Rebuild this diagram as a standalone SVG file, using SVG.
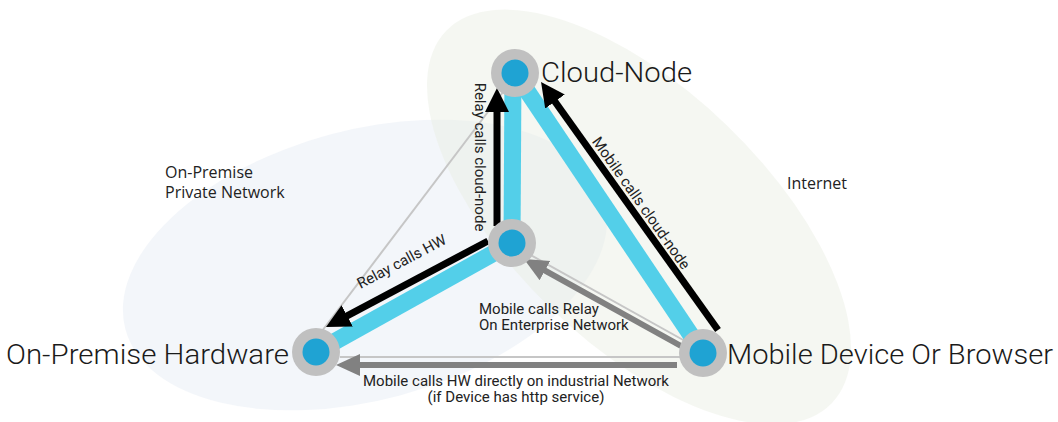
<svg xmlns="http://www.w3.org/2000/svg" width="1058" height="422" viewBox="0 0 1058 422">
  <style>
    .zone-onprem { fill: #e7eef6; fill-opacity: 0.5; }
    .zone-net { fill: #e9eee2; fill-opacity: 0.45; }
    .zone-label { font-family: "Open Sans", "Liberation Sans", sans-serif; font-size: 16px; fill: #222; }
    .ring { fill: #c0c0c0; }
    .core { fill: #1fa3d3; }
    .node-label { font-family: Roboto, "Liberation Sans", sans-serif; font-weight: 300; font-size: 27px; fill: #1a1a1a; }
    .trunk { stroke: #53cfe9; stroke-width: 17; fill: none; }
    .call { stroke: #000; stroke-width: 7; fill: none; }
    .alt { stroke: #818181; stroke-width: 6; fill: none; }
    .hair { stroke: #c6c6c6; stroke-width: 2; fill: none; }
    .edge-label { font-family: Roboto, "Liberation Sans", sans-serif; font-size: 15px; fill: #222; }
  </style>
  <defs>
    <marker id="headBlack" markerUnits="userSpaceOnUse" markerWidth="26" markerHeight="26" refX="6" refY="12" orient="auto">
      <path d="M0,0 L24,12 L0,24 z" fill="#000"/>
    </marker>
    <marker id="headGrey" markerUnits="userSpaceOnUse" markerWidth="26" markerHeight="24" refX="6" refY="11" orient="auto">
      <path d="M0,0 L24,11 L0,22 z" fill="#818181"/>
    </marker>
  </defs>

  <!-- network zones -->
  <g id="zones">
    <ellipse class="zone-onprem" cx="365" cy="265" rx="248" ry="135" transform="rotate(-15 365 265)"/>
    <ellipse class="zone-net" cx="639" cy="217" rx="268" ry="127" transform="rotate(44 639 217)"/>
    <text class="zone-label" x="165" y="178">On-Premise</text>
    <text class="zone-label" x="165" y="198">Private Network</text>
    <text class="zone-label" x="787" y="189">Internet</text>
  </g>

  <!-- connectors -->
  <g id="connectors">
    <line class="hair" x1="322" y1="331" x2="503" y2="92"/>
    <line class="hair" x1="527" y1="253" x2="685" y2="341"/>
    <line class="hair" x1="340" y1="357" x2="680" y2="357"/>

    <line class="trunk" x1="513" y1="73" x2="512" y2="243"/>
    <line class="trunk" x1="512" y1="243" x2="316" y2="352"/>
    <line class="trunk" x1="515" y1="73" x2="703" y2="353"/>

    <line class="call" x1="497" y1="226" x2="497" y2="106" marker-end="url(#headBlack)"/>
    <line class="call" x1="718" y1="330" x2="551.5" y2="96.7" marker-end="url(#headBlack)"/>
    <line class="call" x1="488" y1="241" x2="341.9" y2="318.6" marker-end="url(#headBlack)"/>

    <line class="alt" x1="681" y1="346" x2="539.7" y2="267.7" marker-end="url(#headGrey)"/>
    <line class="alt" x1="677" y1="365" x2="354" y2="365" marker-end="url(#headGrey)"/>

    <text class="edge-label" transform="translate(475 157) rotate(90)" text-anchor="middle">Relay calls cloud-node</text>
    <text class="edge-label" transform="translate(637 206) rotate(54.8)" text-anchor="middle">Mobile calls cloud-node</text>
    <text class="edge-label" transform="translate(404 266) rotate(-28)" text-anchor="middle">Relay calls HW</text>
    <text class="edge-label" x="479" y="314">Mobile calls Relay</text>
    <text class="edge-label" x="479" y="330">On Enterprise Network</text>
    <text class="edge-label" x="516" y="386" text-anchor="middle">Mobile calls HW directly on industrial Network</text>
    <text class="edge-label" x="516" y="402" text-anchor="middle">(if Device has http service)</text>
  </g>

  <!-- nodes -->
  <g id="cloud-node">
    <circle class="ring" cx="515" cy="73" r="24"/>
    <circle class="core" cx="515" cy="73" r="13.5"/>
    <text class="node-label" x="541" y="82" textLength="151" lengthAdjust="spacingAndGlyphs">Cloud-Node</text>
  </g>
  <g id="relay">
    <circle class="ring" cx="512" cy="243" r="24"/>
    <circle class="core" cx="512" cy="243" r="13.5"/>
  </g>
  <g id="on-premise-hardware">
    <circle class="ring" cx="316" cy="352" r="24"/>
    <circle class="core" cx="316" cy="352" r="13.5"/>
    <text class="node-label" x="6" y="364" textLength="283" lengthAdjust="spacingAndGlyphs">On-Premise Hardware</text>
  </g>
  <g id="mobile-device">
    <circle class="ring" cx="703" cy="353" r="24"/>
    <circle class="core" cx="703" cy="353" r="13.5"/>
    <text class="node-label" x="727" y="364" textLength="326" lengthAdjust="spacingAndGlyphs">Mobile Device Or Browser</text>
  </g>
</svg>
